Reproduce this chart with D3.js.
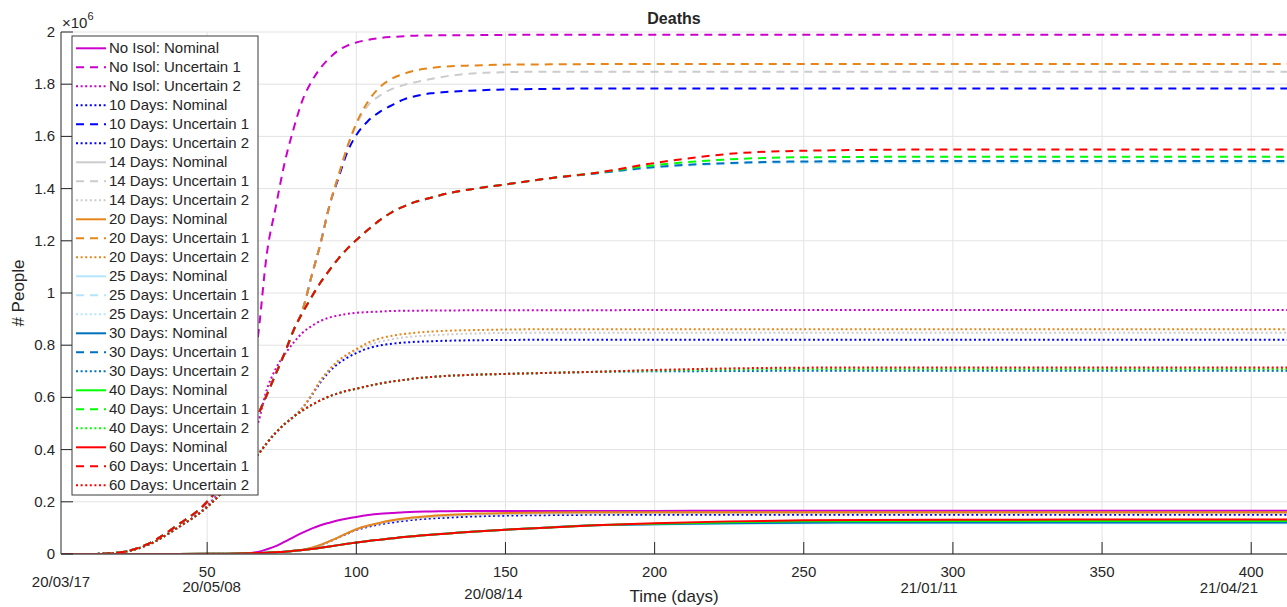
<!DOCTYPE html>
<html>
<head>
<meta charset="utf-8">
<script src="https://cdn.jsdelivr.net/npm/d3@7"></script>
<style>
  body { margin: 0; background: #fff; }
  text { font-family: "Liberation Sans", Arial, sans-serif; fill: #262626; }
</style>
</head>
<body>
<div id="chart"></div>
<script>
//days of the simulation (shared x values)
const days = [1,10,20,30,40,50,55,60,64,67,70,73,76,79,82,85,88,91,94,97,100,104,108,112,116,120,125,130,140,150,165,180,200,225,250,300,350,412];

//deaths in millions
const noIsolNom = [0,0,0,0,0, 0,0,.001,.003,.008, .018,.03,.047,.065,.082, .097,.11,.12,.129,.136, .142,.149,.154,.157,.16, .162,.163,.164,.165,.165, .165,.165,.165,.166,.166, .166,.166,.166];
const noIsolU1 = [0,0,.005,.038,.11, .20,.28,.42,.62,.83, 1.15,1.33,1.50,1.63,1.74, 1.81,1.862,1.90,1.93,1.948, 1.96,1.97,1.977,1.981,1.984, 1.986,1.987,1.988,1.988,1.989, 1.989,1.989,1.989,1.989,1.989, 1.989,1.989,1.989];
const noIsolU2 = [0,0,.005,.034,.10, .185,.25,.33,.42,.50, .63,.71,.765,.81,.848, .873,.893,.906,.914,.92, .924,.927,.929,.931,.932, .932,.933,.933,.934,.934, .934,.934,.935,.935,.935, .935,.935,.935];

const tenNom = [0,0,0,0,0, .0005,.001,.002,.003,.004, .005,.007,.009,.012,.016, .024,.034,.048,.063,.078, .092,.104,.114,.121,.127, .132,.136,.139,.144,.147, .149,.15,.15,.15,.15, .15,.15,.15];
const tenU1 = [0,0,.005,.038,.11, .20,.27,.35,.44,.53, .61,.69,.77,.858,.935, 1.065,1.19,1.335,1.44,1.54, 1.605,1.66,1.695,1.72,1.742, 1.755,1.765,1.77,1.776,1.78, 1.782,1.784,1.784,1.784,1.784, 1.784,1.784,1.784];
const tenU2 = [0,0,.005,.034,.10, .18,.235,.29,.34,.38, .425,.465,.498,.526,.56, .607,.658,.70,.73,.752, .77,.788,.799,.806,.81, .813,.815,.817,.819,.82, .821,.821,.821,.821,.821, .821,.821,.821];

const fourteenNom = [0,0,0,0,0, .0005,.001,.002,.003,.004, .005,.007,.009,.012,.016, .024,.035,.049,.064,.08, .095,.108,.118,.126,.132, .137,.142,.145,.151,.153, .155,.156,.157,.157,.157, .157,.157,.157];
const fourteenU1 = [0,0,.005,.038,.11, .20,.27,.35,.44,.53, .61,.69,.77,.858,.935, 1.065,1.19,1.335,1.45,1.56, 1.645,1.72,1.757,1.782,1.797, 1.808,1.82,1.83,1.842,1.846, 1.848,1.848,1.848,1.848,1.848, 1.848,1.848,1.848];
const fourteenU2 = [0,0,.005,.034,.10, .18,.235,.29,.34,.38, .425,.465,.498,.526,.56, .61,.664,.706,.74,.762, .78,.80,.814,.823,.83, .834,.838,.841,.845,.847, .848,.848,.848,.848,.848, .848,.848,.848];

const twentyNom = [0,0,0,0,0, .0005,.001,.002,.003,.004, .005,.007,.009,.012,.016, .024,.035,.049,.064,.08, .095,.109,.12,.129,.136, .141,.146,.149,.155,.157, .159,.16,.16,.16,.16, .16,.16,.16];
const twentyU1 = [0,0,.005,.038,.11, .20,.27,.35,.44,.53, .61,.69,.77,.858,.935, 1.065,1.19,1.335,1.45,1.56, 1.65,1.735,1.79,1.822,1.84, 1.853,1.862,1.868,1.872,1.875, 1.876,1.877,1.877,1.877,1.877, 1.877,1.877,1.877];
const twentyU2 = [0,0,.005,.034,.10, .18,.235,.29,.34,.38, .425,.465,.498,.526,.56, .61,.665,.707,.741,.765, .785,.81,.826,.836,.843, .848,.852,.855,.858,.86, .861,.861,.861,.861,.861, .861,.861,.861];

const twentyFiveNom = [0,0,0,0,0, .0005,.001,.002,.003,.004, .005,.007,.009,.012,.015, .019,.024,.029,.034,.039, .044,.05,.055,.06,.065, .069,.074,.078,.086,.093, .102,.11,.113,.116,.118, .118,.118,.118];
const twentyFiveU1 = [0,0,.005,.038,.11, .20,.27,.35,.44,.53, .61,.69,.77,.858,.925, .985,1.04,1.088,1.132,1.17, 1.203,1.243,1.28,1.31,1.332, 1.35,1.365,1.38,1.40,1.416, 1.44,1.457,1.48,1.495,1.50, 1.50,1.50,1.50];
const twentyFiveU2 = [0,0,.005,.034,.10, .18,.235,.29,.34,.38, .425,.465,.498,.526,.55, .571,.589,.604,.616,.626, .633,.644,.653,.661,.667, .673,.678,.682,.687,.69, .694,.697,.699,.70,.701, .701,.701,.701];

const thirtyNom = [0,0,0,0,0, .0005,.001,.002,.003,.004, .005,.007,.009,.012,.015, .019,.024,.029,.034,.039, .044,.05,.055,.06,.065, .069,.074,.078,.086,.093, .102,.11,.114,.118,.12, .121,.121,.121];
const thirtyU1 = [0,0,.005,.038,.11, .20,.27,.35,.44,.53, .61,.69,.77,.858,.925, .985,1.04,1.088,1.132,1.17, 1.203,1.243,1.28,1.31,1.332, 1.35,1.365,1.38,1.40,1.416, 1.44,1.458,1.483,1.498,1.504, 1.506,1.506,1.506];
const thirtyU2 = [0,0,.005,.034,.10, .18,.235,.29,.34,.38, .425,.465,.498,.526,.55, .571,.589,.604,.616,.626, .633,.644,.653,.661,.667, .673,.678,.682,.687,.69, .694,.698,.70,.701,.702, .702,.702,.702];

const fortyNom = [0,0,0,0,0, .0005,.001,.002,.003,.004, .005,.007,.009,.012,.015, .019,.024,.029,.034,.039, .044,.05,.055,.06,.065, .069,.074,.078,.086,.093, .102,.11,.116,.122,.125, .126,.126,.126];
const fortyU1 = [0,0,.005,.038,.11, .20,.27,.35,.44,.53, .61,.69,.77,.858,.925, .985,1.04,1.088,1.132,1.17, 1.203,1.243,1.28,1.31,1.332, 1.35,1.365,1.38,1.40,1.416, 1.44,1.46,1.49,1.512,1.52, 1.522,1.522,1.522];
const fortyU2 = [0,0,.005,.034,.10, .18,.235,.29,.34,.38, .425,.465,.498,.526,.55, .571,.589,.604,.616,.626, .633,.644,.653,.661,.667, .673,.678,.682,.687,.69, .694,.698,.703,.707,.709, .709,.709,.709];

const sixtyNom = [0,0,0,0,0, .0005,.001,.002,.003,.004, .005,.007,.009,.012,.015, .019,.024,.029,.034,.039, .044,.05,.055,.06,.065, .069,.074,.078,.086,.093, .102,.11,.118,.125,.129, .131,.132,.132];
const sixtyU1 = [0,0,.005,.038,.11, .20,.27,.35,.44,.53, .61,.69,.77,.858,.925, .985,1.04,1.088,1.132,1.17, 1.203,1.243,1.28,1.31,1.332, 1.35,1.365,1.38,1.40,1.416, 1.44,1.46,1.498,1.533,1.545, 1.55,1.55,1.55];
const sixtyU2 = [0,0,.005,.034,.10, .18,.235,.29,.34,.38, .425,.465,.498,.526,.55, .571,.589,.604,.616,.626, .633,.644,.653,.661,.667, .673,.678,.682,.687,.69, .694,.698,.705,.711,.714, .715,.715,.715];

//legend names and groups
const groups = ["No Isol", "10 Days", "14 Days", "20 Days", "25 Days", "30 Days", "40 Days", "60 Days"];
const cases = ["Nominal", "Uncertain 1", "Uncertain 2"];
const groupColors = ["#cc00cc", "#0000ff", "#cccccc", "#e6861a", "#b3e6fa", "#0072bd", "#00ff00", "#ff0000"];
const seriesValues = [
  [noIsolNom, noIsolU1, noIsolU2],
  [tenNom, tenU1, tenU2],
  [fourteenNom, fourteenU1, fourteenU2],
  [twentyNom, twentyU1, twentyU2],
  [twentyFiveNom, twentyFiveU1, twentyFiveU2],
  [thirtyNom, thirtyU1, thirtyU2],
  [fortyNom, fortyU1, fortyU2],
  [sixtyNom, sixtyU1, sixtyU2]
];

//axis ticks and date annotations
const xTicks = [50, 100, 150, 200, 250, 300, 350, 400];
const yTicks = [0, 0.2, 0.4, 0.6, 0.8, 1, 1.2, 1.4, 1.6, 1.8, 2];
const dateLabels = ["20/03/17", "20/05/08", "20/08/14", "21/01/11", "21/04/21"];
const dateDays = [1, 51.5, 146, 292, 392.5];

//setting visual dimensions
const width = 1287;
const height = 607;
const mLeft = 61, mRight = 1287, mTop = 32, mBottom = 554;

const svg = d3.select("#chart")
  .append("svg")
  .attr("width", width)
  .attr("height", height);

const x = d3.scaleLinear().domain([1, 412]).range([mLeft, mRight]);
const y = d3.scaleLinear().domain([0, 2]).range([mBottom, mTop]);

//grid
svg.append("g")
  .selectAll("line")
  .data(xTicks)
  .enter()
  .append("line")
  .attr("x1", d => x(d)).attr("x2", d => x(d))
  .attr("y1", mTop).attr("y2", mBottom)
  .attr("stroke", "#e3e3e3").attr("stroke-width", 1);

svg.append("g")
  .selectAll("line")
  .data(yTicks)
  .enter()
  .append("line")
  .attr("x1", mLeft).attr("x2", mRight)
  .attr("y1", d => y(d)).attr("y2", d => y(d))
  .attr("stroke", "#e3e3e3").attr("stroke-width", 1);

//clip lines to the axes area
svg.append("clipPath").attr("id", "clip")
  .append("rect")
  .attr("x", mLeft).attr("y", mTop - 2)
  .attr("width", mRight - mLeft).attr("height", mBottom - mTop + 2);

const line = d3.line()
  .x((d, i) => x(days[i]))
  .y(d => y(d))
  .curve(d3.curveMonotoneX);

//10 Days nominal is drawn dotted in the original
const dashFor = (g, c) => {
  if (c === 1) return "8,6";
  if (c === 2 || (g === 1 && c === 0)) return "2,2.6";
  return null;
};

const plotArea = svg.append("g").attr("clip-path", "url(#clip)");
const legendItems = [];
groups.forEach((g, gi) => {
  cases.forEach((c, ci) => {
    plotArea.append("path")
      .datum(seriesValues[gi][ci])
      .attr("d", line)
      .attr("fill", "none")
      .attr("stroke", groupColors[gi])
      .attr("stroke-width", 2)
      .attr("stroke-dasharray", dashFor(gi, ci));
    legendItems.push({ name: `${g}: ${c}`, color: groupColors[gi], dash: dashFor(gi, ci) });
  });
});

//axes lines and ticks (ticks point inward)
svg.append("line")
  .attr("x1", mLeft).attr("x2", mRight)
  .attr("y1", mBottom).attr("y2", mBottom)
  .attr("stroke", "#5a5a5a").attr("stroke-width", 1.3);
svg.append("line")
  .attr("x1", mLeft).attr("x2", mLeft)
  .attr("y1", mTop).attr("y2", mBottom)
  .attr("stroke", "#5a5a5a").attr("stroke-width", 1.3);

svg.append("g")
  .selectAll("line")
  .data(xTicks)
  .enter()
  .append("line")
  .attr("x1", d => x(d)).attr("x2", d => x(d))
  .attr("y1", mBottom).attr("y2", mBottom - 12)
  .attr("stroke", "#262626");

svg.append("g")
  .selectAll("line")
  .data(yTicks)
  .enter()
  .append("line")
  .attr("x1", mLeft).attr("x2", mLeft + 12)
  .attr("y1", d => y(d)).attr("y2", d => y(d))
  .attr("stroke", "#262626");

//tick labels
svg.append("g")
  .selectAll("text")
  .data(xTicks)
  .enter()
  .append("text")
  .attr("x", d => x(d))
  .attr("y", 577)
  .attr("text-anchor", "middle")
  .attr("font-size", 15)
  .text(d => d);

svg.append("g")
  .selectAll("text")
  .data(yTicks)
  .enter()
  .append("text")
  .attr("x", 55)
  .attr("y", d => y(d) + 5)
  .attr("text-anchor", "end")
  .attr("font-size", 15)
  .text(d => d);

//date annotations under the axis
const dateBaselines = [587, 592, 599, 593, 593];
svg.append("g")
  .selectAll("text")
  .data(dateLabels)
  .enter()
  .append("text")
  .attr("x", (d, i) => x(dateDays[i]))
  .attr("y", (d, i) => dateBaselines[i])
  .attr("text-anchor", "middle")
  .attr("font-size", 15)
  .attr("fill", "#000")
  .text(d => d);

//exponent
const expo = svg.append("text").attr("x", 62).attr("y", 28).attr("font-size", 15);
expo.append("tspan").text("\u00d710");
expo.append("tspan").attr("dy", -8).attr("font-size", 11).text("6");

//titles
svg.append("text")
  .attr("x", (mLeft + mRight) / 2).attr("y", 24)
  .attr("text-anchor", "middle")
  .attr("font-size", 16).attr("font-weight", "bold")
  .attr("fill", "#000")
  .text("Deaths");

svg.append("text")
  .attr("x", (mLeft + mRight) / 2).attr("y", 602)
  .attr("text-anchor", "middle")
  .attr("font-size", 17)
  .text("Time (days)");

svg.append("text")
  .attr("transform", `translate(24, ${(mTop + mBottom) / 2}) rotate(-90)`)
  .attr("text-anchor", "middle")
  .attr("font-size", 17)
  .text("# People");

//legend box
const legend = svg.append("g");
legend.append("rect")
  .attr("x", 72).attr("y", 36)
  .attr("width", 186).attr("height", 459)
  .attr("fill", "#fff")
  .attr("stroke", "#3a3a3a").attr("stroke-width", 1);

const rows = legend.selectAll("g.item")
  .data(legendItems)
  .enter()
  .append("g")
  .attr("class", "item")
  .attr("transform", (d, i) => `translate(0, ${48.3 + i * 19})`);

rows.append("line")
  .attr("x1", 76).attr("x2", 106)
  .attr("stroke", d => d.color)
  .attr("stroke-width", 2)
  .attr("stroke-dasharray", d => d.dash);

rows.append("text")
  .attr("x", 109).attr("y", 5)
  .attr("font-size", 15)
  .attr("fill", "#000")
  .text(d => d.name);
</script>
</body>
</html>
